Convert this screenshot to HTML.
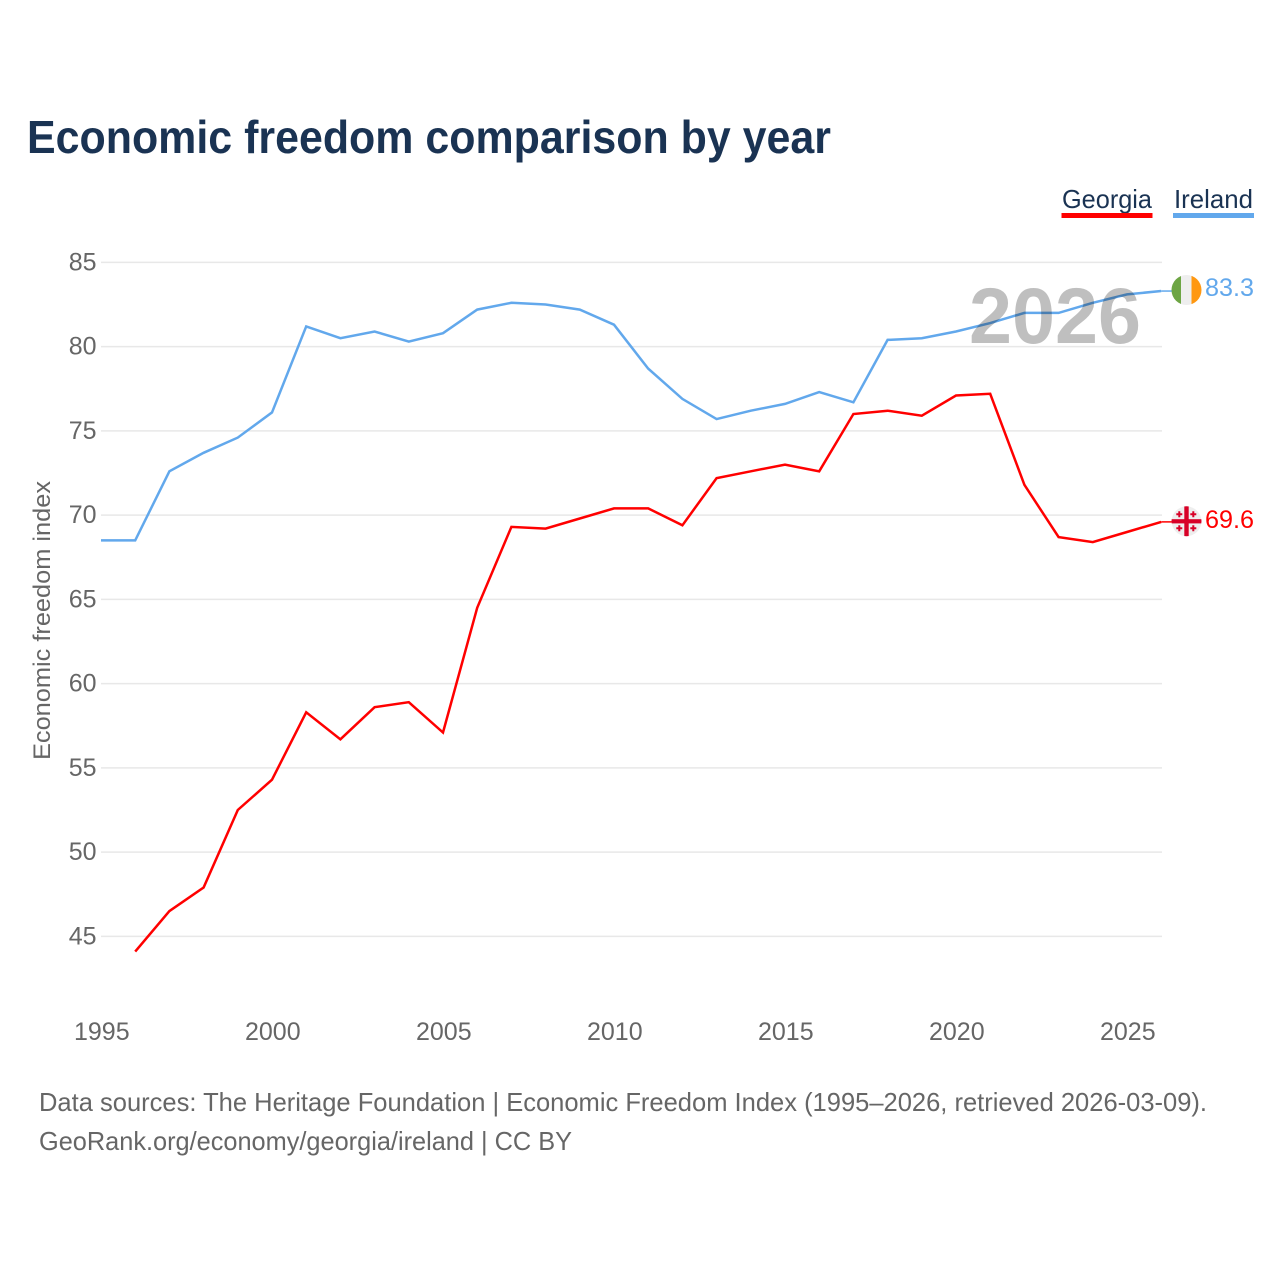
<!DOCTYPE html>
<html>
<head>
<meta charset="utf-8">
<style>
html,body{margin:0;padding:0;background:#fff;width:1280px;height:1280px;overflow:hidden}
svg{display:block}
text{font-family:"Liberation Sans",sans-serif}
</style>
</head>
<body>
<svg id="chart" width="1280" height="1280" viewBox="0 0 1280 1280" xmlns="http://www.w3.org/2000/svg">
<text x="27" y="153" font-size="46" font-weight="700" fill="#1a3353" textLength="804" lengthAdjust="spacingAndGlyphs">Economic freedom comparison by year</text>
<g id="grid"></g>
<g id="yticks"></g>
<g id="xticks"></g>
<text transform="translate(50,760) rotate(-90)" font-size="24" fill="#666" textLength="279" lengthAdjust="spacingAndGlyphs">Economic freedom index</text>
<g id="series"></g>
<text x="969" y="343" font-size="79" font-weight="700" fill="#000000" fill-opacity="0.25" textLength="172" lengthAdjust="spacingAndGlyphs">2026</text>
<g>
<text x="1062" y="208" font-size="26" fill="#1a3353" textLength="90" lengthAdjust="spacingAndGlyphs">Georgia</text>
<rect x="1061.5" y="213" width="91" height="5" fill="#ff0000"/>
</g>
<g>
<text x="1174" y="208" font-size="26" fill="#1a3353" textLength="79" lengthAdjust="spacingAndGlyphs">Ireland</text>
<rect x="1173" y="213" width="81" height="5" fill="#62a8ec"/>
</g>
<defs>
<clipPath id="flag-ie-clip"><circle cx="1186.5" cy="290" r="15"/></clipPath>
<clipPath id="flag-ge-clip"><circle cx="1186.5" cy="521.3" r="15"/></clipPath>
</defs>
<g clip-path="url(#flag-ie-clip)">
<rect x="1171" y="275" width="10" height="30" fill="#6da544"/>
<rect x="1181" y="275" width="10.5" height="30" fill="#eeeeee"/>
<rect x="1191.5" y="275" width="10.5" height="30" fill="#ff9811"/>
</g>
<g clip-path="url(#flag-ge-clip)">
<circle cx="1186.5" cy="521.3" r="15" fill="#eeeeee"/>
<rect x="1184.3" y="506" width="4.4" height="31" fill="#d80027"/>
<rect x="1171" y="519.2" width="31" height="4.2" fill="#d80027"/>
<path d="M1178.3 511.3h2v2h2v2h-2v2h-2v-2h-2v-2h2zM1192.3 511.3h2v2h2v2h-2v2h-2v-2h-2v-2h2zM1178.3 525.3h2v2h2v2h-2v2h-2v-2h-2v-2h2zM1192.3 525.3h2v2h2v2h-2v2h-2v-2h-2v-2h2z" fill="#d80027"/>
</g>
<text x="1205" y="296" font-size="25" fill="#62a8ec" textLength="49" lengthAdjust="spacingAndGlyphs">83.3</text>
<text x="1205" y="528" font-size="25" fill="#ff0000" textLength="49" lengthAdjust="spacingAndGlyphs">69.6</text>
<text x="39" y="1111" font-size="26" fill="#666" textLength="1168" lengthAdjust="spacingAndGlyphs">Data sources: The Heritage Foundation | Economic Freedom Index (1995–2026, retrieved 2026-03-09).</text>
<text x="39" y="1150" font-size="26" fill="#666" textLength="533" lengthAdjust="spacingAndGlyphs">GeoRank.org/economy/georgia/ireland | CC BY</text>
</svg>
<script>
const years = [1995,1996,1997,1998,1999,2000,2001,2002,2003,2004,2005,2006,2007,2008,2009,2010,2011,2012,2013,2014,2015,2016,2017,2018,2019,2020,2021,2022,2023,2024,2025,2026];
const ireland = [68.5,68.5,72.6,73.7,74.6,76.1,81.2,80.5,80.9,80.3,80.8,82.2,82.6,82.5,82.2,81.3,78.7,76.9,75.7,76.2,76.6,77.3,76.7,80.4,80.5,80.9,81.4,82.0,82.0,82.6,83.1,83.3];
const georgia = [null,44.1,46.5,47.9,52.5,54.3,58.3,56.7,58.6,58.9,57.1,64.5,69.3,69.2,69.8,70.4,70.4,69.4,72.2,72.6,73.0,72.6,76.0,76.2,75.9,77.1,77.2,71.8,68.7,68.4,69.0,69.6];
const yTickValues = [45,50,55,60,65,70,75,80,85];
const xTickValues = [1995,2000,2005,2010,2015,2020,2025];

const svgNS = 'http://www.w3.org/2000/svg';
const xScale = function (year) { return 101 + (year - 1995) * (1161.2 - 101) / 31; };
const yScale = function (value) { return 262.4 + (85 - value) * (936.4 - 262.4) / 40; };

const gridGroup = document.getElementById('grid');
const yGroup = document.getElementById('yticks');
const xGroup = document.getElementById('xticks');
const seriesGroup = document.getElementById('series');

yTickValues.forEach(function (v) {
  const line = document.createElementNS(svgNS, 'line');
  
  
  line.setAttribute('x1', 101);
  line.setAttribute('x2', 1162);
  line.setAttribute('y1', yScale(v));
  line.setAttribute('y2', yScale(v));
  line.setAttribute('stroke', '#e8e8e8');
  line.setAttribute('stroke-width', '1.5');
  gridGroup.appendChild(line);

  const label = document.createElementNS(svgNS, 'text');
  
  
  label.setAttribute('x', 96.5);
  label.setAttribute('y', yScale(v) + 8);
  label.setAttribute('text-anchor', 'end');
  label.setAttribute('font-size', '25');
  label.setAttribute('fill', '#666');
  label.textContent = v;
  yGroup.appendChild(label);
});

xTickValues.forEach(function (y) {
  const label = document.createElementNS(svgNS, 'text');
  
  
  label.setAttribute('x', xScale(y) + 0.8);
  label.setAttribute('y', 1040);
  label.setAttribute('text-anchor', 'middle');
  label.setAttribute('font-size', '25');
  label.setAttribute('fill', '#666');
  label.textContent = y;
  xGroup.appendChild(label);
});

function buildPoints(values) {
  const pts = [];
  values.forEach(function (v, i) {
    if (v !== null) pts.push(xScale(years[i]).toFixed(1) + ',' + yScale(v).toFixed(1));
  });
  return pts;
}

const irelandLine = document.createElementNS(svgNS, 'polyline');


irelandLine.setAttribute('points', buildPoints(ireland).join(' '));
irelandLine.setAttribute('fill', 'none');
irelandLine.setAttribute('stroke', '#62a8ec');
irelandLine.setAttribute('stroke-width', '2.5');
seriesGroup.appendChild(irelandLine);

const georgiaLine = document.createElementNS(svgNS, 'polyline');


georgiaLine.setAttribute('points', buildPoints(georgia).join(' '));
georgiaLine.setAttribute('fill', 'none');
georgiaLine.setAttribute('stroke', '#ff0000');
georgiaLine.setAttribute('stroke-width', '2.5');
seriesGroup.appendChild(georgiaLine);

const irelandStub = document.createElementNS(svgNS, 'line');


irelandStub.setAttribute('x1', xScale(2026));
irelandStub.setAttribute('x2', 1172);
irelandStub.setAttribute('y1', yScale(ireland[ireland.length - 1]));
irelandStub.setAttribute('y2', yScale(ireland[ireland.length - 1]));
irelandStub.setAttribute('stroke', '#62a8ec');
irelandStub.setAttribute('stroke-width', '1.5');
seriesGroup.appendChild(irelandStub);

const georgiaStub = document.createElementNS(svgNS, 'line');


georgiaStub.setAttribute('x1', xScale(2026));
georgiaStub.setAttribute('x2', 1172);
georgiaStub.setAttribute('y1', yScale(georgia[georgia.length - 1]));
georgiaStub.setAttribute('y2', yScale(georgia[georgia.length - 1]));
georgiaStub.setAttribute('stroke', '#ff0000');
georgiaStub.setAttribute('stroke-width', '1.5');
seriesGroup.appendChild(georgiaStub);
</script>
</body>
</html>
